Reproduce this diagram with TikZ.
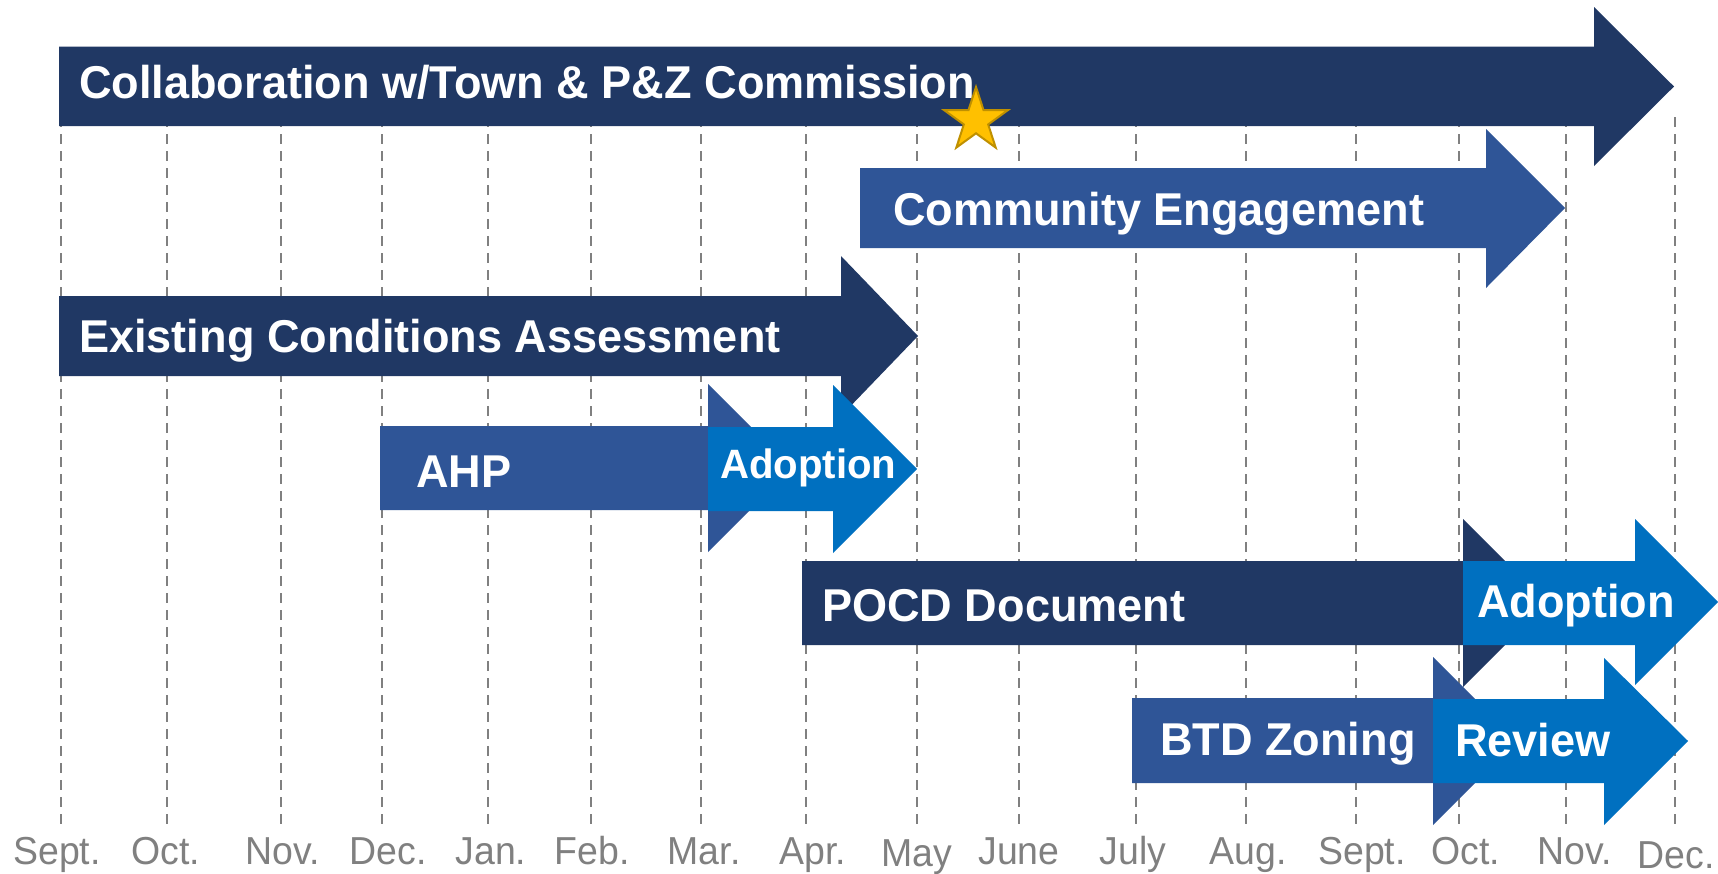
\documentclass[tikz,border=0pt]{standalone}
\usepackage{fontspec}
\usetikzlibrary{shapes.geometric}
\newfontfamily\barfont{Liberation Sans}[FakeStretch=0.98]
\newfontfamily\monthfont{Liberation Sans}[FakeStretch=0.96]
\definecolor{navy}{RGB}{32,56,100}
\definecolor{midblue}{RGB}{47,85,151}
\definecolor{brightblue}{RGB}{0,112,192}
\definecolor{gridgray}{RGB}{128,128,128}
\definecolor{stargold}{RGB}{255,192,0}
\definecolor{staredge}{RGB}{191,144,0}
\tikzset{
  navybar/.style={fill=navy},
  midbar/.style={fill=midblue},
  brightbar/.style={fill=brightblue},
  barlabel/.style={anchor=base west, inner sep=0pt, text=white, font=\barfont\bfseries\fontsize{46}{50}\selectfont},
  monthlabel/.style={anchor=base, inner sep=0pt, text=gridgray, font=\monthfont\fontsize{39}{44}\selectfont},
  gridline/.style={draw=gridgray, line width=2.5pt, dash pattern=on 10pt off 7pt}
}
\begin{document}
\begin{tikzpicture}[x=1pt, y=-1pt]
\useasboundingbox[fill=white] (0,0) rectangle (1718,873);
% month grid
\foreach \mx in {61,167,281,382,488,591,701,806,917,1019,1136,1246,1356,1459,1566,1675}
  \draw[gridline] (\mx,117) -- (\mx,826);
% month labels
\foreach \mx/\mname/\mbase in {57/Sept./864, 166/Oct./864, 283/Nov./864, 388/Dec./864,
    491/Jan./864, 592/Feb./864, 704/Mar./864, 813/Apr./864, 917/May/866, 1019/June/864,
    1133/July/864, 1248/Aug./864, 1362/Sept./864, 1466/Oct./864, 1575/Nov./864, 1676/Dec./868}
  \node[monthlabel] (m\mx) at (\mx,\mbase) {\mname};
% task bars
\fill[navybar] (59,46.5) -- (1594,46.5) -- (1594,7) -- (1674,86.5) -- (1594,166) -- (1594,126) -- (59,126) -- cycle;
\fill[midbar] (860,168) -- (1486,168) -- (1486,129) -- (1565,208) -- (1486,288) -- (1486,248) -- (860,248) -- cycle;
\fill[navybar] (59,296) -- (841,296) -- (841,256) -- (918,336) -- (841,416) -- (841,376) -- (59,376) -- cycle;
\fill[midbar] (380,426) -- (708,426) -- (708,384) -- (792,468) -- (708,552) -- (708,510) -- (380,510) -- cycle;
\fill[brightbar] (708,427) -- (833,427) -- (833,385) -- (917,469) -- (833,553) -- (833,511) -- (708,511) -- cycle;
\fill[navybar] (802,561) -- (1463,561) -- (1463,519) -- (1547,603) -- (1463,687) -- (1463,645) -- (802,645) -- cycle;
\fill[brightbar] (1463,561) -- (1635,561) -- (1635,519) -- (1718,602) -- (1635,685) -- (1635,645) -- (1463,645) -- cycle;
\fill[midbar] (1132,698) -- (1433,698) -- (1433,657) -- (1517,741) -- (1433,825) -- (1433,783) -- (1132,783) -- cycle;
\fill[brightbar] (1433,699) -- (1604,699) -- (1604,658) -- (1688,741) -- (1604,825) -- (1604,783) -- (1433,783) -- cycle;
% bar texts
\node[barlabel] (collab) at (79,98) {Collaboration w/Town \& P\&Z Commission};
\node[barlabel] (engage) at (893,225) {Community Engagement};
\node[barlabel] (existing) at (79,352) {Existing Conditions Assessment};
\node[barlabel] (ahp) at (416,487) {AHP};
\node[barlabel, font=\barfont\bfseries\fontsize{41}{46}\selectfont] (adoptahp) at (720,478) {Adoption};
\node[barlabel] (pocd) at (822,621) {POCD Document};
\node[barlabel] (adoptpocd) at (1477,617) {Adoption};
\node[barlabel] (btd) at (1160,755) {BTD Zoning};
\node[barlabel] (review) at (1455,756) {Review};
% milestone
\node[star, star points=5, star point ratio=2.618, minimum size=67pt, inner sep=0pt,
  fill=stargold, draw=staredge, line width=2pt] (milestone) at (976,120.5) {};
\end{tikzpicture}
\end{document}
